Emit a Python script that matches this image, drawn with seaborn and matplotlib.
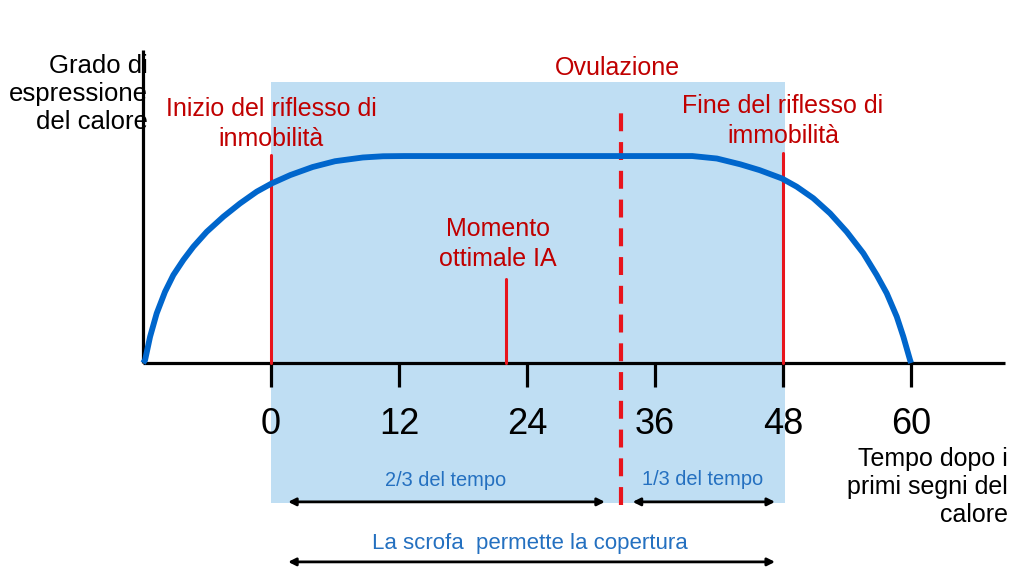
import matplotlib
matplotlib.use("Agg")
import matplotlib.pyplot as plt
from matplotlib.patches import Rectangle
import pandas as pd
import seaborn as sns

# curve: hours after first heat signs vs heat expression level
hours = [-12, -11.81, -11.34, -10.72, -9.94, -9.16, -8.22, -7.28, -6.03, -4.47,
         -2.91, -1.34, 0.07, 1.8, 3.9, 6.0, 8.6, 10.5, 12.5,
         39.5, 41.8, 44, 45.8, 47.88, 49.28, 50.84, 52.41, 53.97, 55.53, 56.78,
         57.72, 58.66, 59.28, 59.91, 60]
level = [0, 0.014, 0.127, 0.240, 0.344, 0.425, 0.498, 0.562, 0.634, 0.707,
         0.771, 0.828, 0.868, 0.908, 0.947, 0.975, 0.993, 0.999, 1.0,
         1.0, 0.988, 0.960, 0.932, 0.892, 0.852, 0.796, 0.723, 0.634, 0.530, 0.425,
         0.337, 0.224, 0.127, 0.014, 0]

tick_hours = [0, 12, 24, 36, 48, 60]
tick_labels = ["0", "12", "24", "36", "48", "60"]
start_hour = 0        # inizio riflesso di immobilità
end_hour = 48         # fine riflesso di immobilità
ia_hour = 22          # momento ottimale IA
ovulation_hour = 32.8

RED_TXT = "#C00000"
RED = "#E8141C"
BLUE = "#0066CC"
BLUE_TXT = "#2470C0"
SHADE = "#BFDEF3"

sns.set_style("white")
plt.rcParams["font.family"] = ["Liberation Sans", "DejaVu Sans"]
plt.rcParams["text.color"] = "black"

fig = plt.figure(figsize=(10.24, 5.77), dpi=100)
ax = fig.add_axes([0, 0, 1, 1])
ax.set_xlim(-25.41, 70.59)
ax.set_ylim(-1.034, 1.754)
ax.axis("off")

# shaded window of immobility
ax.add_patch(Rectangle((start_hour, -0.676), end_hour - start_hour + 0.2, 2.033,
                       facecolor=SHADE, edgecolor="none", zorder=0))

# axes
ax.plot([-12, -12], [0, 1.512], color="black", lw=2.3, solid_capstyle="butt", zorder=3)
ax.plot([-12, 68.8], [0, 0], color="black", lw=2.3, solid_capstyle="butt", zorder=3)
ax.vlines(tick_hours, -0.116, 0, color="black", lw=2.3, zorder=3)
for h, lab in zip(tick_hours, tick_labels):
    ax.text(h, -0.295, lab, ha="center", va="center", fontsize=26)

# curve
df = pd.DataFrame({"ore": hours, "livello": level})
sns.lineplot(data=df, x="ore", y="livello", ax=ax, color=BLUE, lw=4.2,
             sort=False, legend=False, zorder=4)
for ln in ax.lines[-1:]:
    ln.set_solid_capstyle("butt")
    ln.set_solid_joinstyle("round")

# red markers
ax.plot([start_hour, start_hour], [0, 1.005], color=RED, lw=2.2, zorder=3)
ax.plot([end_hour, end_hour], [0, 1.014], color=RED, lw=2.2, zorder=3)
ax.plot([ia_hour, ia_hour], [0, 0.406], color=RED, lw=2.2, zorder=3)
ax.plot([ovulation_hour, ovulation_hour], [-0.686, 1.237], color=RED, lw=3,
        linestyle=(0, (4.3, 2.6)), zorder=3)

# arrows
arrow = dict(arrowstyle="<|-|>", color="black", lw=2, mutation_scale=11,
             shrinkA=0, shrinkB=0)
ax.annotate("", xy=(1.6, -0.671), xytext=(31.3, -0.671), arrowprops=arrow)
ax.annotate("", xy=(33.9, -0.671), xytext=(47.25, -0.671), arrowprops=arrow)
ax.annotate("", xy=(1.6, -0.961), xytext=(47.25, -0.961), arrowprops=arrow)

# texts
ax.text(-11.5, 1.3, "Grado di\nespressione\ndel calore", ha="right", va="center",
        multialignment="right", fontsize=18.5, linespacing=1.2, zorder=2)
ax.text(start_hour, 1.155, "Inizio del riflesso di\ninmobilità", ha="center",
        va="center", color=RED_TXT, fontsize=18, linespacing=1.33)
ax.text(end_hour, 1.169, "Fine del riflesso di\nimmobilità", ha="center",
        va="center", color=RED_TXT, fontsize=18, linespacing=1.33)
ax.text(32.5, 1.425, "Ovulazione", ha="center", va="center", color=RED_TXT,
        fontsize=18)
ax.text(21.3, 0.575, "Momento\nottimale IA", ha="center", va="center",
        color=RED_TXT, fontsize=18, linespacing=1.3)
ax.text(69.1, -0.598, "Tempo dopo i\nprimi segni del\ncalore", ha="right",
        va="center", multialignment="right", fontsize=18, linespacing=1.22)
ax.text(16.4, -0.570, "2/3 del tempo", ha="center", va="center",
        color=BLUE_TXT, fontsize=14.4)
ax.text(40.5, -0.565, "1/3 del tempo", ha="center", va="center",
        color=BLUE_TXT, fontsize=14.4)
ax.text(24.3, -0.870, "La scrofa  permette la copertura", ha="center",
        va="center", color=BLUE_TXT, fontsize=16)

fig.savefig("out.png", dpi=100)
